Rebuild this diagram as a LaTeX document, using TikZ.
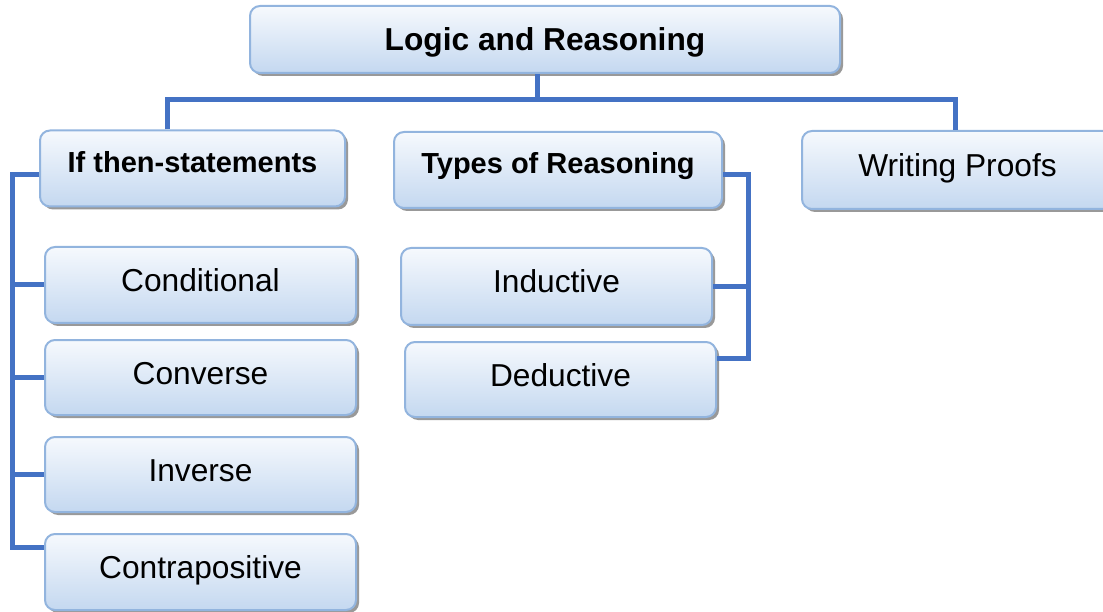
\documentclass[tikz,border=0pt]{standalone}
\usepackage{fontspec}
\setmainfont{Liberation Sans}
\usetikzlibrary{shadows}
\definecolor{linkblue}{RGB}{68,114,196}
\definecolor{boxedge}{RGB}{146,180,222}
\definecolor{boxtop}{RGB}{246,249,253}
\definecolor{boxbottom}{RGB}{196,216,240}
\newcommand{\bigfont}{\fontsize{31.7}{36}\selectfont}
\newcommand{\subfont}{\fontsize{29}{34}\selectfont\bfseries}
\begin{document}
\begin{tikzpicture}[x=1pt, y=-1pt,
    box/.style={rectangle, rounded corners=10pt, draw=boxedge, line width=2pt,
      top color=boxtop, bottom color=boxbottom, minimum width=311pt, minimum height=76pt,
      drop shadow={shadow xshift=3pt, shadow yshift=-3pt, fill=black!40, opacity=1},
      font=\bigfont, inner sep=0pt, text height=23pt, text depth=10pt},
    subbox/.style={box, font=\subfont, text height=21pt, text depth=13pt},
    link/.style={draw=linkblue, line width=5pt}]
    \useasboundingbox (0,0) rectangle (1103,612);

    % Nodes
    \node[box, minimum width=590pt, minimum height=67pt, text depth=0pt, font=\bigfont\bfseries] (top) at (545,39.5) {Logic and Reasoning};
    \node[subbox, minimum width=305pt] (ifthen) at (192.5,168.5) {If then-statements};
    \node[subbox, minimum width=328pt] (types) at (558,170) {Types of Reasoning};
    \node[box, minimum height=78pt] (proofs) at (957.5,170) {Writing Proofs};
    \node[box] (cond) at (200.5,285) {Conditional};
    \node[box, minimum height=75pt] (conv) at (200.5,377.5) {Converse};
    \node[box, minimum height=75pt] (inv) at (200.5,474.5) {Inverse};
    \node[box] (contra) at (200.5,572) {Contrapositive};
    \node[box, minimum height=77pt] (induc) at (556.5,286.5) {Inductive};
    \node[box, minimum height=75pt] (deduc) at (560.5,379.5) {Deductive};

    % Edges
    \coordinate (bus) at (537,100);
    \coordinate (lrail) at (12,0);
    \coordinate (rrail) at (748,0);
    \coordinate (contraw) at ([yshift=25pt]contra.west);
    \coordinate (deduce) at ([yshift=21pt]deduc.east);
    \draw[link] ([xshift=-8pt]top.south) -- (bus);
    \draw[link] ([xshift=-25.5pt]ifthen.north) |- (bus) -| ([xshift=-2.5pt]proofs.north);
    \draw[link] ([yshift=-6pt]ifthen.west) -| (lrail |- contraw) -- (contraw);
    \foreach \n in {cond,conv,inv}
    \draw[link] (\n.west) -- (lrail |- \n.west);
    \draw[link] ([yshift=-5pt]types.east) -| (rrail |- deduce) -- (deduce);
    \draw[link] (induc.east) -- (rrail |- induc.east);
\end{tikzpicture}
\end{document}
